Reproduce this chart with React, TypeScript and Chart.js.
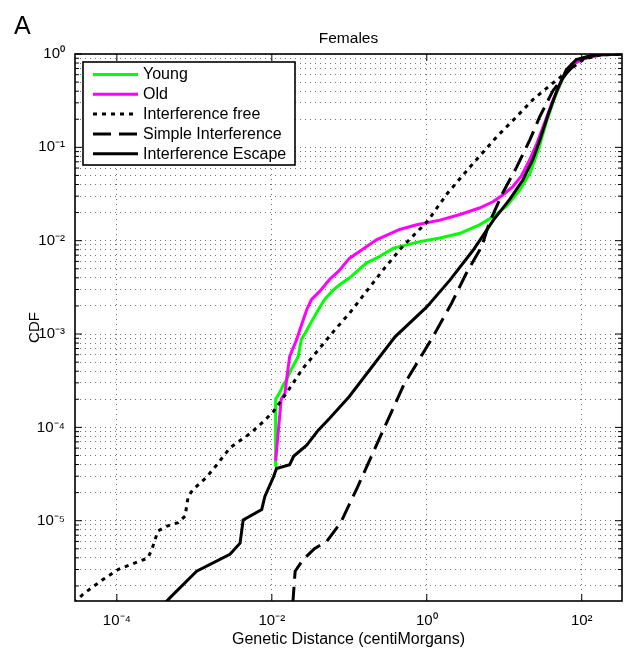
import React, { useEffect, useRef } from 'react';
import { Chart, registerables } from 'chart.js';

Chart.register(...registerables);

const FONT = '"Liberation Sans", Arial, Helvetica, sans-serif';

// ---- axis ranges / ticks ----
const xMin = 2.88e-5;
const xMax = 331;
const yMin = 1.38e-6;
const yMax = 1;
const xTickValues = [1e-4, 1e-2, 1, 1e2];
const yDecades = [1e-6, 1e-5, 1e-4, 1e-3, 1e-2, 1e-1, 1];
const yMinorSteps = [1, 2, 3, 4, 5, 6, 7, 8, 9];

// ---- series names ----
const seriesNames = ['Young', 'Old', 'Interference free', 'Simple Interference', 'Interference Escape'];

// ---- Young (green) ----
const youngX = [1.10e-2, 1.12e-2, 1.12e-2, 1.26e-2, 1.41e-2, 1.55e-2, 1.78e-2, 2.19e-2, 2.40e-2, 2.69e-2, 3.24e-2, 3.98e-2, 4.79e-2, 6.17e-2, 7.59e-2, 0.1, 0.166, 0.245, 0.372, 0.813, 1.48, 2.69, 4.79, 7.24, 10.7, 15.8, 21.4, 27.5, 34.7, 44.7, 57.5, 77.6, 115, 178, 355];
const youngY = [3.80e-5, 1.26e-4, 2.00e-4, 2.34e-4, 2.88e-4, 3.24e-4, 4.17e-4, 5.75e-4, 8.71e-4, 1.02e-3, 1.35e-3, 1.82e-3, 2.34e-3, 2.95e-3, 3.39e-3, 3.98e-3, 5.75e-3, 6.76e-3, 8.32e-3, 9.77e-3, 1.07e-2, 1.20e-2, 1.48e-2, 1.82e-2, 2.34e-2, 3.47e-2, 5.25e-2, 9.33e-2, 0.182, 0.339, 0.550, 0.794, 0.912, 0.977, 1];

// ---- Old (magenta) ----
const oldX = [1.12e-2, 1.32e-2, 1.48e-2, 1.55e-2, 1.70e-2, 2.09e-2, 2.29e-2, 2.82e-2, 3.24e-2, 4.17e-2, 5.62e-2, 7.24e-2, 0.1, 0.224, 0.447, 0.741, 1.48, 2.69, 4.79, 7.24, 9.55, 12.9, 16.6, 21.4, 26.3, 33.1, 42.7, 55.0, 74.1, 105, 170, 355];
const oldY = [4.37e-5, 2.00e-4, 2.34e-4, 3.24e-4, 5.75e-4, 8.71e-4, 1.10e-3, 1.82e-3, 2.34e-3, 2.88e-3, 3.89e-3, 4.68e-3, 6.46e-3, 1.02e-2, 1.32e-2, 1.48e-2, 1.66e-2, 1.91e-2, 2.24e-2, 2.63e-2, 3.09e-2, 3.80e-2, 4.90e-2, 7.41e-2, 0.110, 0.182, 0.324, 0.525, 0.759, 0.891, 0.977, 1];

// ---- Interference free (dotted) ----
const freeX = [2.75e-5, 3.89e-5, 6.61e-5, 1.05e-4, 2.51e-4, 2.82e-4, 3.39e-4, 4.37e-4, 6.17e-4, 7.59e-4, 8.32e-4, 9.55e-4, 1.45e-3, 1.95e-3, 2.88e-3, 4.07e-3, 5.37e-3, 7.76e-3, 1.05e-2, 1.55e-2, 2.51e-2, 3.80e-2, 6.46e-2, 0.1, 0.275, 0.49, 1, 1.86, 3.98, 7.94, 14.5, 23.4, 42.7, 77.6, 105, 170, 355];
const freeY = [1.32e-6, 1.70e-6, 2.34e-6, 3.02e-6, 3.98e-6, 4.90e-6, 7.76e-6, 8.71e-6, 9.55e-6, 1.12e-5, 1.82e-5, 2.14e-5, 2.95e-5, 3.98e-5, 6.03e-5, 7.41e-5, 8.71e-5, 1.15e-4, 1.48e-4, 2.34e-4, 4.27e-4, 6.46e-4, 1.10e-3, 1.66e-3, 4.90e-3, 8.71e-3, 1.58e-2, 3.24e-2, 6.76e-2, 0.129, 0.214, 0.324, 0.49, 0.724, 0.871, 0.977, 1];

// ---- Simple Interference (dashed) ----
const simpleX = [1.86e-2, 2.00e-2, 2.51e-2, 3.55e-2, 5.13e-2, 7.76e-2, 0.126, 0.251, 0.501, 1.20, 2.09, 3.24, 5.13, 6.46, 9.55, 14.5, 21.4, 28.8, 42.7, 63.1, 93.3, 158, 355];
const simpleY = [1.26e-6, 2.88e-6, 3.80e-6, 5.01e-6, 6.03e-6, 9.55e-6, 2.24e-5, 7.94e-5, 2.82e-4, 9.33e-4, 2.14e-3, 4.47e-3, 8.71e-3, 1.58e-2, 3.24e-2, 6.17e-2, 0.120, 0.214, 0.407, 0.617, 0.871, 0.989, 1];

// ---- Interference Escape (solid black) ----
const escapeX = [3.98e-4, 4.79e-4, 1.07e-3, 2.88e-3, 3.89e-3, 4.27e-3, 7.41e-3, 8.13e-3, 1.05e-2, 1.15e-2, 1.70e-2, 1.91e-2, 2.82e-2, 3.98e-2, 5.62e-2, 0.1, 0.389, 1, 2.00, 3.98, 7.24, 11.7, 17.4, 23.4, 28.8, 37.2, 47.9, 63.1, 85.1, 126, 209, 355];
const escapeY = [1.26e-6, 1.48e-6, 2.88e-6, 4.37e-6, 5.75e-6, 1.02e-5, 1.32e-5, 1.82e-5, 2.95e-5, 3.63e-5, 3.98e-5, 4.90e-5, 6.46e-5, 9.33e-5, 1.26e-4, 2.14e-4, 9.33e-4, 1.95e-3, 3.80e-3, 7.94e-3, 1.66e-2, 2.75e-2, 4.47e-2, 7.41e-2, 0.120, 0.229, 0.407, 0.676, 0.871, 0.955, 0.999, 1];

const seriesColors = ['#00ff00', '#ff00ff', '#000000', '#000000', '#000000'];
const seriesDash: number[][] = [[], [], [4, 5], [18, 8], []];

const SUP: Record<string, string> = {
  '-': '\u207B', '0': '\u2070', '1': '\u00B9', '2': '\u00B2', '3': '\u00B3',
  '4': '\u2074', '5': '\u2075', '6': '\u2076', '7': '\u2077', '8': '\u2078', '9': '\u2079',
};

function isPow10(v: number) {
  const l = Math.log10(v);
  return Math.abs(l - Math.round(l)) < 1e-9;
}

function powLabel(v: number) {
  if (!isPow10(v)) return '';
  const e = String(Math.round(Math.log10(v)));
  return '10' + e.split('').map((c) => SUP[c] || c).join('');
}

function pts(xs: number[], ys: number[]) {
  return xs.map((x, i) => ({ x, y: ys[i] }));
}

const matlabPlugin = {
  id: 'matlabDecor',
  afterDraw(chart: any) {
    const { ctx, chartArea: a, scales } = chart;
    const xs = scales.x;
    const ys = scales.y;
    ctx.save();
    ctx.setLineDash([]);
    ctx.strokeStyle = '#000';
    ctx.lineWidth = 1;
    const seg = (x1: number, y1: number, x2: number, y2: number) => {
      ctx.beginPath();
      ctx.moveTo(x1, y1);
      ctx.lineTo(x2, y2);
      ctx.stroke();
    };
    ys.ticks.forEach((t: any) => {
      const py = ys.getPixelForValue(t.value);
      const len = isPow10(t.value) ? 7 : 4;
      seg(a.left, py, a.left + len, py);
      seg(a.right, py, a.right - len, py);
    });
    xs.ticks.forEach((t: any) => {
      const px = xs.getPixelForValue(t.value);
      seg(px, a.bottom, px, a.bottom - 7);
      seg(px, a.top, px, a.top + 7);
    });
    // frame
    ctx.lineWidth = 1.6;
    ctx.strokeRect(a.left, a.top, a.right - a.left, a.bottom - a.top);

    // title & panel letter
    ctx.fillStyle = '#000';
    ctx.textBaseline = 'alphabetic';
    ctx.textAlign = 'center';
    ctx.font = `15.5px ${FONT}`;
    ctx.fillText('Females', (a.left + a.right) / 2, a.top - 11);
    ctx.textAlign = 'left';
    ctx.font = `25px ${FONT}`;
    ctx.fillText('A', 14, 34);

    // legend
    const lx = a.left + 8;
    const ly = a.top + 8;
    const lw = 212;
    const lh = 103;
    ctx.fillStyle = '#fff';
    ctx.fillRect(lx, ly, lw, lh);
    ctx.lineWidth = 1.6;
    ctx.strokeStyle = '#000';
    ctx.strokeRect(lx, ly, lw, lh);
    ctx.font = `16px ${FONT}`;
    ctx.textBaseline = 'middle';
    seriesNames.forEach((name, i) => {
      const ry = ly + 12.5 + i * 19.8;
      ctx.save();
      ctx.strokeStyle = seriesColors[i];
      ctx.lineWidth = 3;
      ctx.setLineDash(seriesDash[i]);
      ctx.beginPath();
      ctx.moveTo(lx + 10, ry);
      ctx.lineTo(lx + 55, ry);
      ctx.stroke();
      ctx.restore();
      ctx.fillStyle = '#000';
      ctx.fillText(name, lx + 60, ry + 0.5);
    });
    ctx.restore();
  },
};

export default function App() {
  const canvasRef = useRef<HTMLCanvasElement | null>(null);

  useEffect(() => {
    const canvas = canvasRef.current;
    if (!canvas) return;
    const seriesX = [youngX, oldX, freeX, simpleX, escapeX];
    const seriesY = [youngY, oldY, freeY, simpleY, escapeY];
    const datasets = seriesNames.map((name, i) => ({
      label: name,
      data: pts(seriesX[i], seriesY[i]),
      showLine: true,
      borderColor: seriesColors[i],
      backgroundColor: seriesColors[i],
      borderWidth: 3,
      borderDash: seriesDash[i],
      pointRadius: 0,
      pointHoverRadius: 0,
      tension: 0,
      fill: false,
      order: 5 - i,
    }));

    const gridColor = 'rgba(0,0,0,0.55)';
    const chart = new Chart(canvas, {
      type: 'scatter',
      data: { datasets },
      options: {
        animation: false,
        responsive: false,
        devicePixelRatio: 1,
        events: [],
        layout: { padding: { top: 54, right: 4, left: 0, bottom: 0 } },
        plugins: {
          legend: { display: false },
          tooltip: { enabled: false },
          title: { display: false },
        },
        scales: {
          x: {
            type: 'logarithmic',
            position: 'bottom',
            min: xMin,
            max: xMax,
            afterBuildTicks: (s: any) => {
              s.ticks = xTickValues.map((v) => ({ value: v }));
            },
            afterFit: (s: any) => {
              s.height = 55;
            },
            ticks: {
              autoSkip: false,
              maxRotation: 0,
              minRotation: 0,
              padding: 11,
              color: '#000',
              font: { family: FONT, size: 15 },
              callback: (v: any) => powLabel(Number(v)),
            },
            grid: { color: gridColor, lineWidth: 1, drawTicks: false, tickLength: 0 },
            border: { display: false, dash: [1, 4] },
            title: {
              display: true,
              text: 'Genetic Distance (centiMorgans)',
              color: '#000',
              font: { family: FONT, size: 16 },
              padding: { top: 0, bottom: 7 },
            },
          },
          y: {
            type: 'logarithmic',
            position: 'left',
            min: yMin,
            max: yMax,
            afterBuildTicks: (s: any) => {
              const t: { value: number }[] = [];
              yDecades.forEach((d) => {
                yMinorSteps.forEach((m) => {
                  const v = d * m;
                  if (v >= yMin && v <= yMax * 1.0000001) t.push({ value: v });
                });
              });
              s.ticks = t;
            },
            afterFit: (s: any) => {
              s.width = 75;
            },
            ticks: {
              autoSkip: false,
              padding: 10,
              color: '#000',
              font: { family: FONT, size: 15 },
              callback: (v: any) => powLabel(Number(v)),
            },
            grid: { color: gridColor, lineWidth: 1, drawTicks: false, tickLength: 0 },
            border: { display: false, dash: [1, 4] },
            title: {
              display: true,
              text: 'CDF',
              color: '#000',
              font: { family: FONT, size: 15 },
              padding: { top: 26, bottom: 0 },
            },
          },
        },
      },
      plugins: [matlabPlugin],
    } as any);

    return () => chart.destroy();
  }, []);

  return (
    <div style={{ position: 'fixed', left: 0, top: 0, width: 626, height: 656, background: '#fff' }}>
      <canvas ref={canvasRef} width={626} height={656} style={{ display: 'block', width: 626, height: 656 }} />
    </div>
  );
}
